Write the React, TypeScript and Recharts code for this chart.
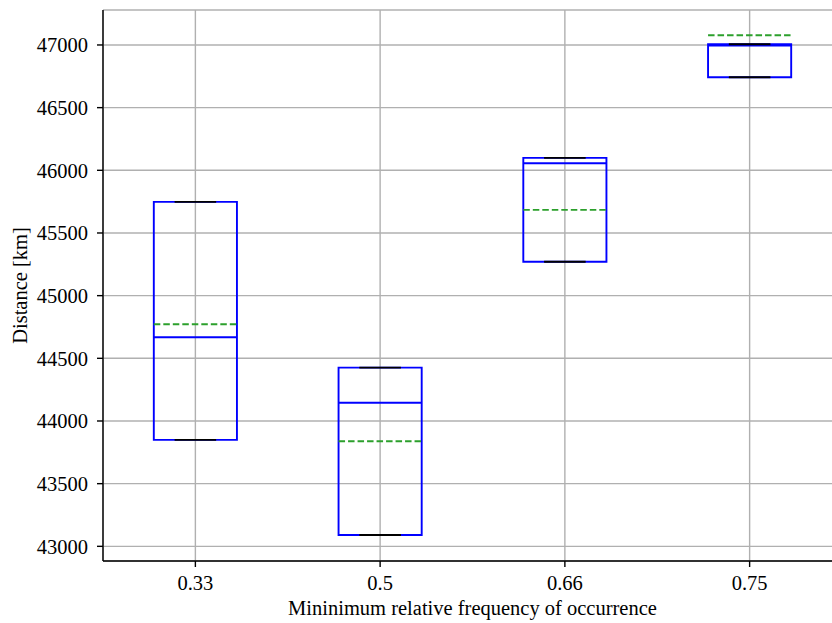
import React from 'react';
import {
  ComposedChart,
  XAxis,
  YAxis,
  CartesianGrid,
  Scatter,
  ReferenceArea,
  ReferenceLine,
} from 'recharts';

const categories = ['0.33', '0.5', '0.66', '0.75'];
const minVals = [43849, 43090, 45271, 46743];
const q1Vals = [43849, 43090, 45271, 46743];
const medianVals = [44668, 44146, 46056, 46995];
const q3Vals = [45748, 44426, 46099, 47006];
const maxVals = [45748, 44426, 46099, 47006];
const meanVals = [44772, 43838, 45684, 47078];
const yTicks = [43000, 43500, 44000, 44500, 45000, 45500, 46000, 46500, 47000];

const positions = categories.map((_, i) => i + 1);
const BOX_HALF = 0.225;
const CAP_HALF = 0.1125;
const BLUE = '#0000ff';
const GREEN = '#2ca02c';
const FONT = "'Liberation Serif', 'Times New Roman', serif";
const FS = 20.5;

const points = positions.map((p, i) => ({ x: p, y: medianVals[i] }));

export default function App() {
  return (
    <div style={{ position: 'absolute', left: 0, top: 0, width: 832, height: 623, overflow: 'hidden', background: '#fff' }}>
      <ComposedChart
        width={842}
        height={623}
        margin={{ top: 10, right: 0, bottom: 0, left: 0 }}
        style={{ fontFamily: FONT }}
      >
        <CartesianGrid stroke="#b0b0b0" strokeWidth={1.4} />
        <XAxis
          dataKey="x"
          type="number"
          domain={[0.5, 4.5]}
          ticks={positions}
          tickFormatter={(v: number) => categories[v - 1] ?? ''}
          allowDataOverflow
          height={62}
          tickSize={6}
          tickMargin={8}
          axisLine={{ stroke: '#000', strokeWidth: 1.4 }}
          tickLine={{ stroke: '#000', strokeWidth: 1.4 }}
          tick={{ fill: '#000', fontSize: FS, fontFamily: FONT }}
          label={{
            value: 'Mininimum relative frequency of occurrence',
            position: 'insideBottom',
            offset: 8,
            fill: '#000',
            fontSize: FS,
            fontFamily: FONT,
          }}
        />
        <XAxis
          xAxisId="top"
          orientation="top"
          type="number"
          domain={[0.5, 4.5]}
          height={0}
          tick={false}
          tickLine={false}
          axisLine={{ stroke: '#000', strokeWidth: 1.4 }}
        />
        <YAxis
          dataKey="y"
          type="number"
          domain={[42883, 47279]}
          ticks={yTicks}
          allowDataOverflow
          width={103}
          tickSize={6}
          tickMargin={9}
          axisLine={{ stroke: '#000', strokeWidth: 1.4 }}
          tickLine={{ stroke: '#000', strokeWidth: 1.4 }}
          tick={{ fill: '#000', fontSize: FS, fontFamily: FONT }}
          label={{
            value: 'Distance [km]',
            angle: -90,
            position: 'insideLeft',
            offset: 20,
            fill: '#000',
            fontSize: FS,
            fontFamily: FONT,
            style: { textAnchor: 'middle' },
          }}
        />
        {positions.map((p, i) => (
          <ReferenceArea
            key={`box-${i}`}
            x1={p - BOX_HALF}
            x2={p + BOX_HALF}
            y1={q1Vals[i]}
            y2={q3Vals[i]}
            fill="none"
            fillOpacity={0}
            stroke={BLUE}
            strokeWidth={1.9}
            ifOverflow="visible"
          />
        ))}
        {positions.map((p, i) => (
          <ReferenceLine
            key={`wlo-${i}`}
            segment={[{ x: p, y: minVals[i] }, { x: p, y: q1Vals[i] }]}
            stroke={BLUE}
            strokeWidth={1.9}
            ifOverflow="visible"
          />
        ))}
        {positions.map((p, i) => (
          <ReferenceLine
            key={`whi-${i}`}
            segment={[{ x: p, y: q3Vals[i] }, { x: p, y: maxVals[i] }]}
            stroke={BLUE}
            strokeWidth={1.9}
            ifOverflow="visible"
          />
        ))}
        {positions.map((p, i) => (
          <ReferenceLine
            key={`med-${i}`}
            segment={[{ x: p - BOX_HALF, y: medianVals[i] }, { x: p + BOX_HALF, y: medianVals[i] }]}
            stroke={BLUE}
            strokeWidth={1.9}
            ifOverflow="visible"
          />
        ))}
        {positions.map((p, i) => (
          <ReferenceLine
            key={`capmin-${i}`}
            segment={[{ x: p - CAP_HALF, y: minVals[i] }, { x: p + CAP_HALF, y: minVals[i] }]}
            stroke="#000"
            strokeWidth={1.9}
            ifOverflow="visible"
          />
        ))}
        {positions.map((p, i) => (
          <ReferenceLine
            key={`capmax-${i}`}
            segment={[{ x: p - CAP_HALF, y: maxVals[i] }, { x: p + CAP_HALF, y: maxVals[i] }]}
            stroke="#000"
            strokeWidth={1.9}
            ifOverflow="visible"
          />
        ))}
        {positions.map((p, i) => (
          <ReferenceLine
            key={`mean-${i}`}
            segment={[{ x: p - BOX_HALF, y: meanVals[i] }, { x: p + BOX_HALF, y: meanVals[i] }]}
            stroke={GREEN}
            strokeWidth={1.9}
            strokeDasharray="6.5 3"
            ifOverflow="visible"
          />
        ))}
        <Scatter data={points} dataKey="y" shape={() => null} isAnimationActive={false} />
      </ComposedChart>
    </div>
  );
}
